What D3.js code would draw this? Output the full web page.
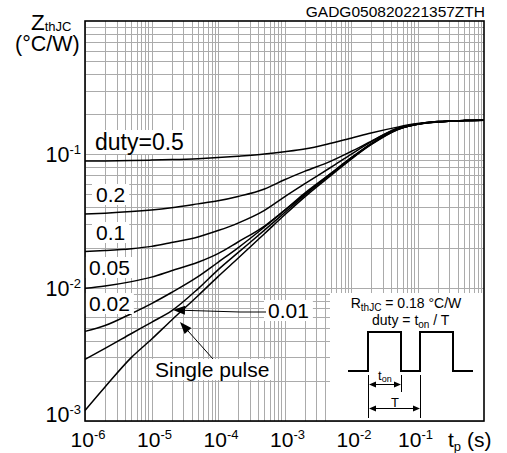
<!DOCTYPE html>
<html>
<head>
<meta charset="utf-8">
<script src="https://cdn.jsdelivr.net/npm/d3@7"></script>
<style>
  body { margin: 0; background: #fff; }
  svg { display: block; }
  text { font-family: "Liberation Sans", Arial, Helvetica, sans-serif; fill: #000; }
</style>
</head>
<body>
<svg id="chart" width="507" height="453"></svg>
<script>
// Pulse widths t_p (s) at which each curve is sampled
const pulseWidths = [1e-6, 2e-6, 5e-6, 1e-5, 2e-5, 5e-5, 1e-4, 2e-4, 5e-4, 1e-3,
                     2e-3, 5e-3, 1e-2, 2e-2, 5e-2, 1e-1, 2e-1, 5e-1, 1];

// Transient thermal impedance Z_thJC (°C/W) per duty cycle
const zDuty05  = [0.089, 0.0893, 0.0898, 0.0905, 0.0913, 0.0928, 0.0945, 0.0968, 0.1005, 0.1045,
                  0.1095, 0.121, 0.132, 0.1445, 0.160, 0.170, 0.176, 0.179, 0.18];
const zDuty02  = [0.0357, 0.0362, 0.0372, 0.0383, 0.0398, 0.0425, 0.0448, 0.0483, 0.0550, 0.0645,
                  0.0745, 0.0890, 0.105, 0.125, 0.157, 0.169, 0.176, 0.179, 0.18];
const zDuty01  = [0.0187, 0.019, 0.0196, 0.0204, 0.0218, 0.0240, 0.0268, 0.0305, 0.038, 0.048,
                  0.060, 0.080, 0.100, 0.124, 0.156, 0.169, 0.176, 0.179, 0.18];
const zDuty005 = [0.0099, 0.0103, 0.0111, 0.0120, 0.0134, 0.0155, 0.0180, 0.0220, 0.029, 0.038,
                  0.051, 0.072, 0.094, 0.120, 0.154, 0.168, 0.175, 0.179, 0.18];
const zDuty002 = [0.0047, 0.0052, 0.0064, 0.0076, 0.0092, 0.0121, 0.0155, 0.0199, 0.0285, 0.038,
                  0.050, 0.072, 0.094, 0.120, 0.154, 0.168, 0.175, 0.179, 0.18];
const zDuty001 = [0.0029, 0.0035, 0.00453, 0.0055, 0.00669, 0.0098, 0.0136, 0.0183, 0.027, 0.0365,
                  0.0492, 0.0710, 0.0930, 0.119, 0.1535, 0.168, 0.175, 0.179, 0.18];
const zSingle  = [0.0012, 0.0018, 0.0030, 0.0041, 0.0057, 0.0087, 0.0121, 0.0166, 0.0254, 0.0351,
                  0.0478, 0.0695, 0.0917, 0.118, 0.153, 0.168, 0.175, 0.179, 0.18];

const seriesNames = ["duty=0.5", "0.2", "0.1", "0.05", "0.02", "0.01", "Single pulse"];
const seriesValues = [zDuty05, zDuty02, zDuty01, zDuty005, zDuty002, zDuty001, zSingle];

// Decade tick exponents
const xTickExps = [-6, -5, -4, -3, -2, -1];
const yTickExps = [-3, -2, -1];

const chartId = "GADG050820221357ZTH";
const rthText = "0.18 °C/W";

// ---------------------------------------------------------------
const svg = d3.select("#chart");
const plotL = 85, plotR = 484, plotT = 21, plotB = 421;
const x = d3.scaleLog().domain([1e-6, 1]).range([plotL, plotR]);
const y = d3.scaleLog().domain([1e-3, 1]).range([plotB, plotT]);
const crisp = v => Math.round(v) + 0.5;

svg.append("rect").attr("width", 507).attr("height", 453).attr("fill", "#fff");

// Log grid: 1..9 in every decade
const xGrid = [], yGrid = [];
for (let e = -6; e <= -1; e++) for (let m = 1; m <= 9; m++) xGrid.push(m * Math.pow(10, e));
for (let e = -3; e <= -1; e++) for (let m = 1; m <= 9; m++) yGrid.push(m * Math.pow(10, e));

const grid = svg.append("g").attr("stroke", "#ababab").attr("stroke-width", 1);
grid.selectAll("line.v").data(xGrid).join("line").attr("class", "v")
  .attr("x1", d => crisp(x(d))).attr("x2", d => crisp(x(d)))
  .attr("y1", plotT).attr("y2", plotB);
grid.selectAll("line.h").data(yGrid).join("line").attr("class", "h")
  .attr("y1", d => crisp(y(d))).attr("y2", d => crisp(y(d)))
  .attr("x1", plotL).attr("x2", plotR);

// Inset panel background (lower right)
svg.append("rect").attr("x", 330).attr("y", 293).attr("width", plotR - 330).attr("height", plotB - 293)
  .attr("fill", "#fff");

// Curves
const line = d3.line()
  .x((d, i) => x(pulseWidths[i]))
  .y(d => y(d))
  .curve(d3.curveMonotoneX);

svg.append("g").attr("fill", "none").attr("stroke", "#000").attr("stroke-width", 1.5)
  .selectAll("path").data(seriesValues).join("path")
  .attr("d", line);

// Curve labels on white boxes
const labelPos = [
  { x: 95, y: 150, size: 23 },
  { x: 96, y: 202, size: 21 },
  { x: 96, y: 240, size: 21 },
  { x: 89, y: 275, size: 21 },
  { x: 89, y: 311, size: 21 },
  { x: 268, y: 318, size: 21 },
  { x: 155, y: 377, size: 21 }
];
const labels = svg.append("g");
seriesNames.forEach((name, i) => {
  const p = labelPos[i];
  const g = labels.append("g");
  const bg = g.append("rect").attr("fill", "#fff");
  const t = g.append("text").attr("x", p.x).attr("y", p.y).attr("font-size", p.size).text(name);
  const b = t.node().getBBox();
  bg.attr("x", b.x - 4).attr("y", b.y + 1).attr("width", b.width + 8).attr("height", b.height - 2);
});

// Leader arrows
function arrow(g, x1, y1, x2, y2, len, half, width) {
  const a = Math.atan2(y2 - y1, x2 - x1);
  const bx = x2 - len * Math.cos(a), by = y2 - len * Math.sin(a);
  g.append("line").attr("x1", x1).attr("y1", y1).attr("x2", bx).attr("y2", by)
    .attr("stroke", "#000").attr("stroke-width", width);
  g.append("path")
    .attr("d", `M${x2},${y2}L${bx + half * Math.sin(a)},${by - half * Math.cos(a)}L${bx - half * Math.sin(a)},${by + half * Math.cos(a)}Z`)
    .attr("fill", "#000");
}
const arrows = svg.append("g");
arrows.append("line").attr("x1", 266).attr("y1", 312).attr("x2", 240).attr("y2", 312)
  .attr("stroke", "#000").attr("stroke-width", 1);
arrow(arrows, 240, 312, 173, 310, 12, 4.5, 1);
arrows.append("line").attr("x1", 213).attr("y1", 359).attr("x2", 205).attr("y2", 350)
  .attr("stroke", "#000").attr("stroke-width", 1);
arrow(arrows, 205, 350, 180, 322, 12, 4.5, 1);

// Inset: R_thJC and duty definition
const inset = svg.append("g");
const r = inset.append("text").attr("x", 406).attr("y", 308).attr("text-anchor", "middle").attr("font-size", 14);
r.append("tspan").text("R");
r.append("tspan").attr("font-size", 10).attr("dy", 3).text("thJC");
r.append("tspan").attr("dy", -3).text(" = " + rthText);

const dt = inset.append("text").attr("x", 372).attr("y", 325).attr("font-size", 14);
dt.append("tspan").text("duty = t");
dt.append("tspan").attr("font-size", 10).attr("dy", 3).text("on");
dt.append("tspan").attr("dy", -3).text(" / T");

// Pulse train
inset.append("path")
  .attr("d", "M348,371H368V332H401V371H420V332H453V371H473")
  .attr("fill", "none").attr("stroke", "#000").attr("stroke-width", 2);

// Dimension lines
inset.append("g").attr("stroke", "#000").attr("stroke-width", 1)
  .call(g => {
    g.append("line").attr("x1", 368.5).attr("x2", 368.5).attr("y1", 375).attr("y2", 418);
    g.append("line").attr("x1", 401.5).attr("x2", 401.5).attr("y1", 375).attr("y2", 392);
    g.append("line").attr("x1", 420.5).attr("x2", 420.5).attr("y1", 375).attr("y2", 418);
  });
arrow(inset, 385, 384.5, 369, 384.5, 7, 3, 1);
arrow(inset, 385, 384.5, 401, 384.5, 7, 3, 1);
arrow(inset, 394, 408.5, 369, 408.5, 7, 3, 1);
arrow(inset, 394, 408.5, 420, 408.5, 7, 3, 1);

const ton = inset.append("text").attr("x", 378).attr("y", 380).attr("font-size", 13);
ton.append("tspan").text("t");
ton.append("tspan").attr("font-size", 9).attr("dy", 2).text("on");
inset.append("text").attr("x", 395).attr("y", 407).attr("text-anchor", "middle").attr("font-size", 13).text("T");

// Plot frame
svg.append("rect").attr("x", plotL).attr("y", plotT).attr("width", plotR - plotL).attr("height", plotB - plotT)
  .attr("fill", "none").attr("stroke", "#000").attr("stroke-width", 1.6);

// X tick labels
const xl = svg.append("g").selectAll("text").data(xTickExps).join("text")
  .attr("x", d => x(Math.pow(10, d)) + (d === -1 ? -2 : 3)).attr("y", 447)
  .attr("text-anchor", "middle").attr("font-size", 21);
xl.append("tspan").text("10");
xl.append("tspan").attr("font-size", 13).attr("dy", -8).text(d => String(d));

// Y tick labels
const yl = svg.append("g").selectAll("text").data(yTickExps).join("text")
  .attr("x", 81).attr("y", d => d === -3 ? y(Math.pow(10, d)) + 1 : y(Math.pow(10, d)) + 8)
  .attr("text-anchor", "end").attr("font-size", 21.5);
yl.append("tspan").text("10");
yl.append("tspan").attr("font-size", 13).attr("dy", -8).text(d => String(d));

// Axis titles
const xt = svg.append("text").attr("x", 448).attr("y", 447).attr("font-size", 21);
xt.append("tspan").text("t");
xt.append("tspan").attr("font-size", 13).attr("dy", 4).text("p");
xt.append("tspan").attr("dy", -4).text(" (s)");

const yt = svg.append("text").attr("x", 31).attr("y", 30).attr("font-size", 22.5);
yt.append("tspan").text("Z");
yt.append("tspan").attr("font-size", 13).attr("dy", 1).text("thJC");
svg.append("text").attr("x", 15).attr("y", 51).attr("font-size", 21.5).text("(°C/W)");

// Chart id
svg.append("text").attr("x", 485).attr("y", 17).attr("text-anchor", "end").attr("font-size", 15.5).text(chartId);
</script>
</body>
</html>
